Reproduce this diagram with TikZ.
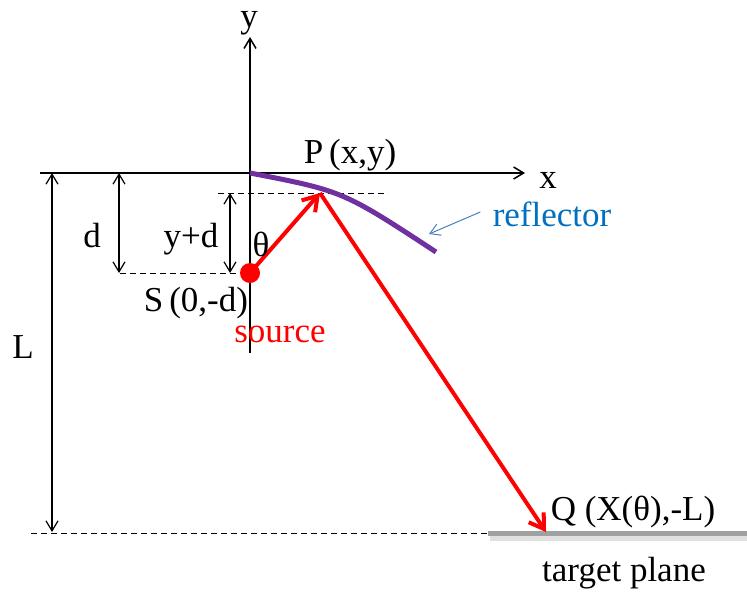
\documentclass[tikz,border=0pt]{standalone}
\usepackage{fontspec}
\setmainfont{Liberation Serif}
\usetikzlibrary{arrows.meta}
\definecolor{rayred}{HTML}{FF0000}
\definecolor{reflpurple}{HTML}{7030A0}
\definecolor{reflblue}{HTML}{0070C0}
\definecolor{pointer}{HTML}{4A7EBB}
\definecolor{plane}{HTML}{A0A0A0}

\begin{document}
\begin{tikzpicture}[
    x=0.5pt,y=-0.5pt,
    font=\fontsize{17.5}{21}\selectfont,
    lbl/.style={inner sep=0pt,anchor=center},
    axis/.style={-{Straight Barb[length=5pt,width=6pt]},line width=0.75pt},
    dim/.style={{Straight Barb[length=5pt,width=6pt]}-{Straight Barb[length=5pt,width=6pt]},line width=0.6pt},
    guide/.style={dash pattern=on 3pt off 2pt,line width=0.5pt},
    ray/.style={-{Straight Barb[length=7pt,width=9pt]},color=rayred,line width=2pt}
  ]
    \useasboundingbox (0,0) rectangle (747,594);
    % points
    \coordinate (O) at (250,173);
    \coordinate (S) at (250,273);
    \coordinate (P) at (320,193);
    \coordinate (Q) at (546,532);
    \coordinate (R) at (436,252);
    \coordinate (yTop) at (250,37);
    \coordinate (yBot) at (250,353);
    \coordinate (xLeft) at (40,173);
    \coordinate (xRight) at (525,173);
    % axes
    \draw[line width=0.75pt] (xLeft) -- (O);
    \draw[axis] (O) -- (xRight);
    \draw[axis] (yBot) -- (yTop);
    \node[lbl] (xlab) at (548,180) {x};
    \node[lbl] (ylab) at (249,23) {y};
    % guides
    \draw[guide] (218,193) -- (388,193);
    \draw[guide] (120,273) -- (S);
    \draw[guide] (31,533) -- (488,533);
    % target plane
    \draw[line width=2.5pt,black!12] (490,538) -- (747,538);
    \draw[line width=2.5pt,plane] (488,533) -- (747,533);
    % dimensions
    \coordinate (dTop) at (119,173);
    \coordinate (dBot) at (119,273);
    \coordinate (ydTop) at (230,193);
    \coordinate (ydBot) at (230,273);
    \coordinate (LTop) at (52,173);
    \coordinate (LBot) at (52,532);
    \draw[dim] (dTop) -- (dBot);
    \draw[dim] (ydTop) -- (ydBot);
    \draw[dim] (LTop) -- (LBot);
    \node[lbl] (dlab) at (92,236) {d};
    \node[lbl] (ydlab) at (191,239) {y+d};
    \node[lbl] (Llab) at (23,347) {L};
    % reflector
    \draw[reflpurple,line width=2.5pt] (O) .. controls (343,191) .. (R);
    \node[lbl,text=reflblue] (refl) at (552,214) {reflector};
    \coordinate (reflTip) at (429,234);
    \draw[-{Straight Barb[length=5pt,width=6pt]},pointer,line width=0.5pt] (refl.west) ++(-12,-2) -- (reflTip);
    % rays
    \draw[ray] (S) -- (P);
    \draw[ray] (P) -- (Q);
    \fill[rayred] (S) circle (10);
    % labels
    \node[lbl] (Plab) at (350,155) {P\,(x,y)};
    \node[lbl] (theta) at (261,244) {θ};
    \node[lbl] (Slab) at (196,303) {S\,(0,-d)};
    \node[lbl,text=rayred] (src) at (280,334) {source};
    \node[lbl] (Qlab) at (633,512) {Q (X(θ),-L)};
    \node[lbl] (tgt) at (624,573) {target plane};
  \end{tikzpicture}
\end{document}
